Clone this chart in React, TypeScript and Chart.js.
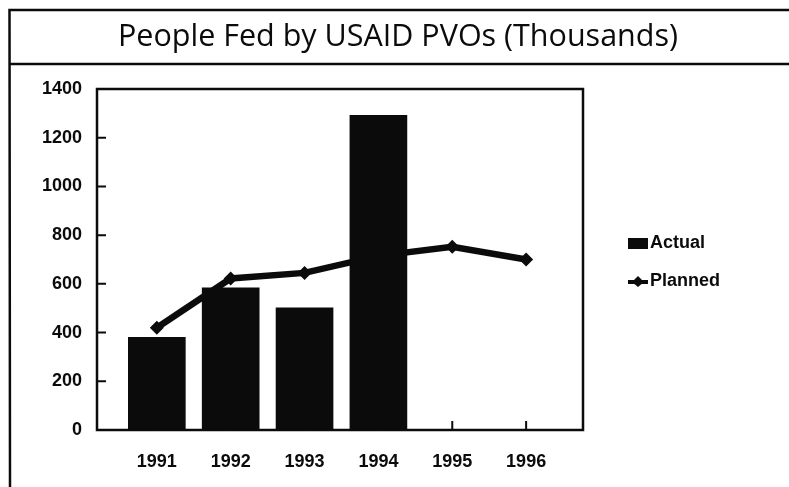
import React, { useEffect, useRef } from "react";
import { Chart, registerables } from "chart.js";

Chart.register(...registerables);

const years = [1991, 1992, 1993, 1994, 1995, 1996];
const actual = [380, 584, 502, 1292, null, null];
const planned = [420, 622, 645, 715, 752, 700];
const yTicks = [0, 200, 400, 600, 800, 1000, 1200, 1400];
const title = "People Fed by USAID PVOs (Thousands)";
const seriesNames = ["Actual", "Planned"];

const INK = "#0b0b0b";
const TICK_FONT = "Liberation Sans, Arial, sans-serif";

const framePlugin = {
  id: "framePlugin",
  beforeDraw(chart: any) {
    const ctx = chart.ctx;
    const W = chart.width;
    const H = chart.height;
    ctx.save();
    ctx.fillStyle = "#ffffff";
    ctx.fillRect(0, 0, W, H);
    ctx.strokeStyle = INK;
    ctx.lineWidth = 2.5;
    ctx.beginPath();
    ctx.moveTo(W + 2, 10);
    ctx.lineTo(9.5, 10);
    ctx.lineTo(10, H + 2);
    ctx.moveTo(9.5, 64);
    ctx.lineTo(W + 2, 64);
    ctx.stroke();
    ctx.fillStyle = INK;
    ctx.font = "30.5px 'Open Sans', sans-serif";
    ctx.textAlign = "center";
    ctx.textBaseline = "middle";
    ctx.fillText(title, 398, 37);
    ctx.restore();
  },
  afterDraw(chart: any) {
    const ctx = chart.ctx;
    const a = chart.chartArea;
    const xs = chart.scales.x;
    const ys = chart.scales.y;
    ctx.save();
    ctx.strokeStyle = INK;
    ctx.lineWidth = 2.5;
    ctx.strokeRect(a.left, a.top, a.right - a.left, a.bottom - a.top);
    ctx.lineWidth = 2;
    ctx.beginPath();
    yTicks.forEach((v) => {
      if (v === 0 || v === 1400) return;
      const py = ys.getPixelForValue(v);
      ctx.moveTo(a.left, py);
      ctx.lineTo(a.left + 9, py);
    });
    years.forEach((v) => {
      const px = xs.getPixelForValue(v);
      ctx.moveTo(px, a.bottom);
      ctx.lineTo(px, a.bottom - 9);
    });
    ctx.stroke();

    // legend
    ctx.fillStyle = INK;
    ctx.font = "bold 18px " + TICK_FONT;
    ctx.textAlign = "left";
    ctx.textBaseline = "middle";
    const lx = 628;
    const ly1 = 243;
    const ly2 = 281;
    ctx.fillRect(lx, ly1 - 5, 20, 11);
    ctx.fillText(seriesNames[0], lx + 22, ly1);
    ctx.lineWidth = 4;
    ctx.beginPath();
    ctx.moveTo(lx, ly2 + 1);
    ctx.lineTo(lx + 20, ly2 + 1);
    ctx.stroke();
    ctx.beginPath();
    ctx.moveTo(lx + 10, ly2 - 5);
    ctx.lineTo(lx + 16, ly2 + 1);
    ctx.lineTo(lx + 10, ly2 + 6);
    ctx.lineTo(lx + 4, ly2 + 1);
    ctx.closePath();
    ctx.fill();
    ctx.fillText(seriesNames[1], lx + 22, ly2);
    ctx.restore();
  },
};

export default function App() {
  const ref = useRef<HTMLCanvasElement | null>(null);
  useEffect(() => {
    if (!ref.current) return;
    const chart = new Chart(ref.current, {
      type: "bar",
      data: {
        datasets: [
          {
            type: "line",
            label: seriesNames[1],
            data: years.map((y, i) => ({ x: y, y: planned[i] })),
            borderColor: INK,
            backgroundColor: INK,
            borderWidth: 6.5,
            pointStyle: "rectRot",
            pointRadius: 7,
            pointBackgroundColor: INK,
            pointBorderColor: INK,
            pointBorderWidth: 0,
            tension: 0,
            order: 0,
          } as any,
          {
            type: "bar",
            label: seriesNames[0],
            data: years.map((y, i) => ({ x: y, y: actual[i] })),
            backgroundColor: INK,
            borderWidth: 0,
            barThickness: 57,
            order: 1,
          } as any,
        ],
      },
      options: {
        responsive: false,
        animation: false,
        layout: { padding: { left: 0, top: 89, right: 206, bottom: 0 } },
        plugins: {
          legend: { display: false },
          title: { display: false },
          tooltip: { enabled: false },
        },
        scales: {
          x: {
            type: "linear",
            offset: false,
            min: 1990.19,
            max: 1996.77,
            afterBuildTicks: (s: any) => {
              s.ticks = years.map((v) => ({ value: v }));
            },
            afterFit: (s: any) => {
              s.height = 57;
            },
            grid: { display: false, drawTicks: false, offset: false },
            border: { display: false },
            ticks: {
              color: INK,
              padding: 21,
              font: { family: TICK_FONT, size: 18, weight: "bold" },
              callback: (v: any) => String(v),
              autoSkip: false,
              maxRotation: 0,
            },
          },
          y: {
            min: 0,
            max: 1400,
            afterBuildTicks: (s: any) => {
              s.ticks = yTicks.map((v) => ({ value: v }));
            },
            afterFit: (s: any) => {
              s.width = 97;
            },
            grid: { display: false, drawTicks: false },
            border: { display: false },
            ticks: {
              color: INK,
              padding: 15,
              font: { family: TICK_FONT, size: 18, weight: "bold" },
              callback: (v: any) => String(v),
            },
          },
        },
      } as any,
      plugins: [framePlugin],
    });
    return () => chart.destroy();
  }, []);
  return (
    <div style={{ position: "absolute", left: 0, top: 0, width: 789, height: 487, background: "#fff" }}>
      <canvas ref={ref} width={789} height={487} style={{ display: "block" }} />
    </div>
  );
}
